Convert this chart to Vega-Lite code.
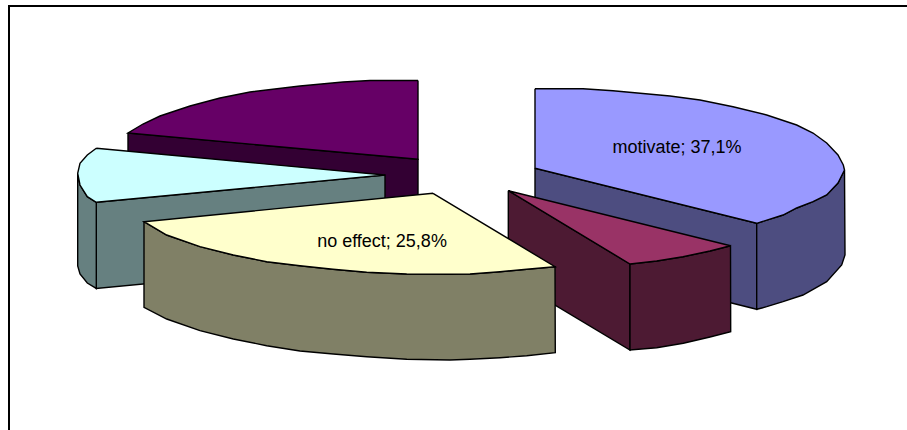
{
  "$schema": "https://vega.github.io/schema/vega-lite/v6.json",
  "width": 907,
  "height": 430,
  "padding": 0,
  "autosize": "none",
  "background": "white",
  "config": {"view": {"stroke": null}},
  "datasets": {
    "frame": [
      {"seq": 1, "x": 9, "y": 430},
      {"seq": 2, "x": 9, "y": 6},
      {"seq": 3, "x": 907, "y": 6}
    ],
    "faces": [
      {"face": "purple side", "seq": 1, "x": 128, "y": 133},
      {"face": "purple side", "seq": 2, "x": 418, "y": 159.3},
      {"face": "purple side", "seq": 3, "x": 418, "y": 245},
      {"face": "purple side", "seq": 4, "x": 128, "y": 219},
      {"face": "purple side", "seq": 5, "x": 128, "y": 133},

      {"face": "purple top", "seq": 1, "x": 418, "y": 80.5},
      {"face": "purple top", "seq": 2, "x": 370, "y": 80.5},
      {"face": "purple top", "seq": 3, "x": 343, "y": 82},
      {"face": "purple top", "seq": 4, "x": 300, "y": 86},
      {"face": "purple top", "seq": 5, "x": 250, "y": 92},
      {"face": "purple top", "seq": 6, "x": 220, "y": 98},
      {"face": "purple top", "seq": 7, "x": 190, "y": 106},
      {"face": "purple top", "seq": 8, "x": 160, "y": 116},
      {"face": "purple top", "seq": 9, "x": 143, "y": 124},
      {"face": "purple top", "seq": 10, "x": 128, "y": 133},
      {"face": "purple top", "seq": 11, "x": 418, "y": 159.3},
      {"face": "purple top", "seq": 12, "x": 418, "y": 80.5},

      {"face": "cyan inner", "seq": 1, "x": 96.3, "y": 202.3},
      {"face": "cyan inner", "seq": 2, "x": 385, "y": 175},
      {"face": "cyan inner", "seq": 3, "x": 385, "y": 261},
      {"face": "cyan inner", "seq": 4, "x": 96.3, "y": 288.4},
      {"face": "cyan inner", "seq": 5, "x": 96.3, "y": 202.3},

      {"face": "cyan rim", "seq": 1, "x": 77.7, "y": 173.3},
      {"face": "cyan rim", "seq": 2, "x": 80, "y": 185},
      {"face": "cyan rim", "seq": 3, "x": 87.3, "y": 196.7},
      {"face": "cyan rim", "seq": 4, "x": 96.3, "y": 202.3},
      {"face": "cyan rim", "seq": 5, "x": 96.3, "y": 288.4},
      {"face": "cyan rim", "seq": 6, "x": 87.3, "y": 283},
      {"face": "cyan rim", "seq": 7, "x": 80, "y": 274},
      {"face": "cyan rim", "seq": 8, "x": 77.7, "y": 266},
      {"face": "cyan rim", "seq": 9, "x": 77.7, "y": 173.3},

      {"face": "cyan top", "seq": 1, "x": 96.3, "y": 148.3},
      {"face": "cyan top", "seq": 2, "x": 87.3, "y": 155},
      {"face": "cyan top", "seq": 3, "x": 80, "y": 163.3},
      {"face": "cyan top", "seq": 4, "x": 77.7, "y": 173.3},
      {"face": "cyan top", "seq": 5, "x": 80, "y": 185},
      {"face": "cyan top", "seq": 6, "x": 87.3, "y": 196.7},
      {"face": "cyan top", "seq": 7, "x": 96.3, "y": 202.3},
      {"face": "cyan top", "seq": 8, "x": 385, "y": 175},
      {"face": "cyan top", "seq": 9, "x": 96.3, "y": 148.3},

      {"face": "motivate inner", "seq": 1, "x": 535, "y": 168.3},
      {"face": "motivate inner", "seq": 2, "x": 756.7, "y": 223.3},
      {"face": "motivate inner", "seq": 3, "x": 756.7, "y": 309.3},
      {"face": "motivate inner", "seq": 4, "x": 535, "y": 254},
      {"face": "motivate inner", "seq": 5, "x": 535, "y": 168.3},

      {"face": "motivate rim", "seq": 1, "x": 844.5, "y": 170},
      {"face": "motivate rim", "seq": 2, "x": 838, "y": 183},
      {"face": "motivate rim", "seq": 3, "x": 826.7, "y": 195},
      {"face": "motivate rim", "seq": 4, "x": 813, "y": 201.7},
      {"face": "motivate rim", "seq": 5, "x": 796.7, "y": 208},
      {"face": "motivate rim", "seq": 6, "x": 783, "y": 215},
      {"face": "motivate rim", "seq": 7, "x": 756.7, "y": 223.3},
      {"face": "motivate rim", "seq": 8, "x": 756.7, "y": 309.3},
      {"face": "motivate rim", "seq": 9, "x": 766.7, "y": 306.7},
      {"face": "motivate rim", "seq": 10, "x": 783, "y": 301.7},
      {"face": "motivate rim", "seq": 11, "x": 803, "y": 295},
      {"face": "motivate rim", "seq": 12, "x": 826.7, "y": 281.7},
      {"face": "motivate rim", "seq": 13, "x": 841.7, "y": 265},
      {"face": "motivate rim", "seq": 14, "x": 845, "y": 255},
      {"face": "motivate rim", "seq": 15, "x": 844.5, "y": 170},

      {"face": "motivate top", "seq": 1, "x": 535, "y": 88.7},
      {"face": "motivate top", "seq": 2, "x": 583, "y": 88.7},
      {"face": "motivate top", "seq": 3, "x": 613, "y": 90.7},
      {"face": "motivate top", "seq": 4, "x": 670, "y": 96},
      {"face": "motivate top", "seq": 5, "x": 700, "y": 100},
      {"face": "motivate top", "seq": 6, "x": 733, "y": 106.7},
      {"face": "motivate top", "seq": 7, "x": 766.7, "y": 115},
      {"face": "motivate top", "seq": 8, "x": 796.7, "y": 125},
      {"face": "motivate top", "seq": 9, "x": 813, "y": 133},
      {"face": "motivate top", "seq": 10, "x": 826.7, "y": 143},
      {"face": "motivate top", "seq": 11, "x": 838, "y": 155},
      {"face": "motivate top", "seq": 12, "x": 843.3, "y": 165},
      {"face": "motivate top", "seq": 13, "x": 844.5, "y": 170},
      {"face": "motivate top", "seq": 14, "x": 838, "y": 183},
      {"face": "motivate top", "seq": 15, "x": 826.7, "y": 195},
      {"face": "motivate top", "seq": 16, "x": 813, "y": 201.7},
      {"face": "motivate top", "seq": 17, "x": 796.7, "y": 208},
      {"face": "motivate top", "seq": 18, "x": 783, "y": 215},
      {"face": "motivate top", "seq": 19, "x": 756.7, "y": 223.3},
      {"face": "motivate top", "seq": 20, "x": 535, "y": 168.3},
      {"face": "motivate top", "seq": 21, "x": 535, "y": 88.7},

      {"face": "crimson inner", "seq": 1, "x": 508.3, "y": 190.7},
      {"face": "crimson inner", "seq": 2, "x": 630, "y": 264},
      {"face": "crimson inner", "seq": 3, "x": 630, "y": 350},
      {"face": "crimson inner", "seq": 4, "x": 508.3, "y": 277},
      {"face": "crimson inner", "seq": 5, "x": 508.3, "y": 190.7},

      {"face": "crimson rim", "seq": 1, "x": 630, "y": 264},
      {"face": "crimson rim", "seq": 2, "x": 656.7, "y": 261},
      {"face": "crimson rim", "seq": 3, "x": 683, "y": 256.7},
      {"face": "crimson rim", "seq": 4, "x": 710, "y": 251},
      {"face": "crimson rim", "seq": 5, "x": 730.5, "y": 245.7},
      {"face": "crimson rim", "seq": 6, "x": 730.7, "y": 331.7},
      {"face": "crimson rim", "seq": 7, "x": 710, "y": 337},
      {"face": "crimson rim", "seq": 8, "x": 683.3, "y": 343.3},
      {"face": "crimson rim", "seq": 9, "x": 656.7, "y": 347.7},
      {"face": "crimson rim", "seq": 10, "x": 630, "y": 350},
      {"face": "crimson rim", "seq": 11, "x": 630, "y": 264},

      {"face": "crimson top", "seq": 1, "x": 508.3, "y": 190.7},
      {"face": "crimson top", "seq": 2, "x": 730.5, "y": 245.7},
      {"face": "crimson top", "seq": 3, "x": 710, "y": 251},
      {"face": "crimson top", "seq": 4, "x": 683, "y": 256.7},
      {"face": "crimson top", "seq": 5, "x": 656.7, "y": 261},
      {"face": "crimson top", "seq": 6, "x": 630, "y": 264},
      {"face": "crimson top", "seq": 7, "x": 508.3, "y": 190.7},

      {"face": "no effect rim", "seq": 1, "x": 144, "y": 221.7},
      {"face": "no effect rim", "seq": 2, "x": 166.7, "y": 235},
      {"face": "no effect rim", "seq": 3, "x": 200, "y": 246.7},
      {"face": "no effect rim", "seq": 4, "x": 233.3, "y": 255},
      {"face": "no effect rim", "seq": 5, "x": 266.7, "y": 261.7},
      {"face": "no effect rim", "seq": 6, "x": 300, "y": 265.7},
      {"face": "no effect rim", "seq": 7, "x": 333, "y": 269.3},
      {"face": "no effect rim", "seq": 8, "x": 366.7, "y": 272.3},
      {"face": "no effect rim", "seq": 9, "x": 406.7, "y": 274},
      {"face": "no effect rim", "seq": 10, "x": 450, "y": 274.3},
      {"face": "no effect rim", "seq": 11, "x": 470, "y": 274},
      {"face": "no effect rim", "seq": 12, "x": 500, "y": 271.7},
      {"face": "no effect rim", "seq": 13, "x": 526.7, "y": 269.3},
      {"face": "no effect rim", "seq": 14, "x": 555, "y": 266.7},
      {"face": "no effect rim", "seq": 15, "x": 555.3, "y": 352.7},
      {"face": "no effect rim", "seq": 16, "x": 526.7, "y": 355.7},
      {"face": "no effect rim", "seq": 17, "x": 500, "y": 357.7},
      {"face": "no effect rim", "seq": 18, "x": 470, "y": 359.3},
      {"face": "no effect rim", "seq": 19, "x": 450, "y": 360},
      {"face": "no effect rim", "seq": 20, "x": 406.7, "y": 359.3},
      {"face": "no effect rim", "seq": 21, "x": 366.7, "y": 356.7},
      {"face": "no effect rim", "seq": 22, "x": 333.3, "y": 354},
      {"face": "no effect rim", "seq": 23, "x": 300, "y": 351},
      {"face": "no effect rim", "seq": 24, "x": 266.7, "y": 345.7},
      {"face": "no effect rim", "seq": 25, "x": 233.3, "y": 339},
      {"face": "no effect rim", "seq": 26, "x": 200, "y": 330.7},
      {"face": "no effect rim", "seq": 27, "x": 166.7, "y": 319},
      {"face": "no effect rim", "seq": 28, "x": 144, "y": 307.3},
      {"face": "no effect rim", "seq": 29, "x": 144, "y": 221.7},

      {"face": "no effect top", "seq": 1, "x": 433, "y": 193.3},
      {"face": "no effect top", "seq": 2, "x": 144, "y": 221.7},
      {"face": "no effect top", "seq": 3, "x": 166.7, "y": 235},
      {"face": "no effect top", "seq": 4, "x": 200, "y": 246.7},
      {"face": "no effect top", "seq": 5, "x": 233.3, "y": 255},
      {"face": "no effect top", "seq": 6, "x": 266.7, "y": 261.7},
      {"face": "no effect top", "seq": 7, "x": 300, "y": 265.7},
      {"face": "no effect top", "seq": 8, "x": 333, "y": 269.3},
      {"face": "no effect top", "seq": 9, "x": 366.7, "y": 272.3},
      {"face": "no effect top", "seq": 10, "x": 406.7, "y": 274},
      {"face": "no effect top", "seq": 11, "x": 450, "y": 274.3},
      {"face": "no effect top", "seq": 12, "x": 470, "y": 274},
      {"face": "no effect top", "seq": 13, "x": 500, "y": 271.7},
      {"face": "no effect top", "seq": 14, "x": 526.7, "y": 269.3},
      {"face": "no effect top", "seq": 15, "x": 555, "y": 266.7},
      {"face": "no effect top", "seq": 16, "x": 433, "y": 193.3}
    ],
    "labels": [
      {"label": "motivate; 37,1%", "share": 37.1, "x": 677, "y": 148},
      {"label": "no effect; 25,8%", "share": 25.8, "x": 382, "y": 242}
    ]
  },
  "layer": [
    {
      "data": {"name": "frame"},
      "mark": {"type": "line", "stroke": "#000000", "strokeWidth": 2, "clip": true},
      "encoding": {
        "x": {"field": "x", "type": "quantitative", "scale": {"domain": [0, 907]}, "axis": null},
        "y": {"field": "y", "type": "quantitative", "scale": {"domain": [430, 0]}, "axis": null},
        "order": {"field": "seq"}
      }
    },
    {
      "data": {"name": "faces"},
      "mark": {"type": "line", "stroke": "#000000", "strokeWidth": 1.4, "strokeJoin": "miter"},
      "encoding": {
        "x": {"field": "x", "type": "quantitative", "scale": {"domain": [0, 907]}, "axis": null},
        "y": {"field": "y", "type": "quantitative", "scale": {"domain": [430, 0]}, "axis": null},
        "order": {"field": "seq"},
        "fill": {
          "field": "face",
          "type": "nominal",
          "legend": null,
          "sort": null,
          "scale": {
            "domain": ["purple side", "purple top", "cyan inner", "cyan rim", "cyan top", "motivate inner", "motivate rim", "motivate top", "crimson inner", "crimson rim", "crimson top", "no effect rim", "no effect top"],
            "range": ["#330033", "#660066", "#668080", "#668080", "#CCFFFF", "#4D4D80", "#4D4D80", "#9999FF", "#4D1A33", "#4D1A33", "#993366", "#808066", "#FFFFCC"]
          }
        }
      }
    },
    {
      "data": {"name": "labels"},
      "mark": {"type": "text", "font": "Liberation Sans", "fontSize": 18, "color": "#000000", "align": "center", "baseline": "middle"},
      "encoding": {
        "x": {"field": "x", "type": "quantitative", "scale": {"domain": [0, 907]}, "axis": null},
        "y": {"field": "y", "type": "quantitative", "scale": {"domain": [430, 0]}, "axis": null},
        "text": {"field": "label", "type": "nominal"}
      }
    }
  ]
}
